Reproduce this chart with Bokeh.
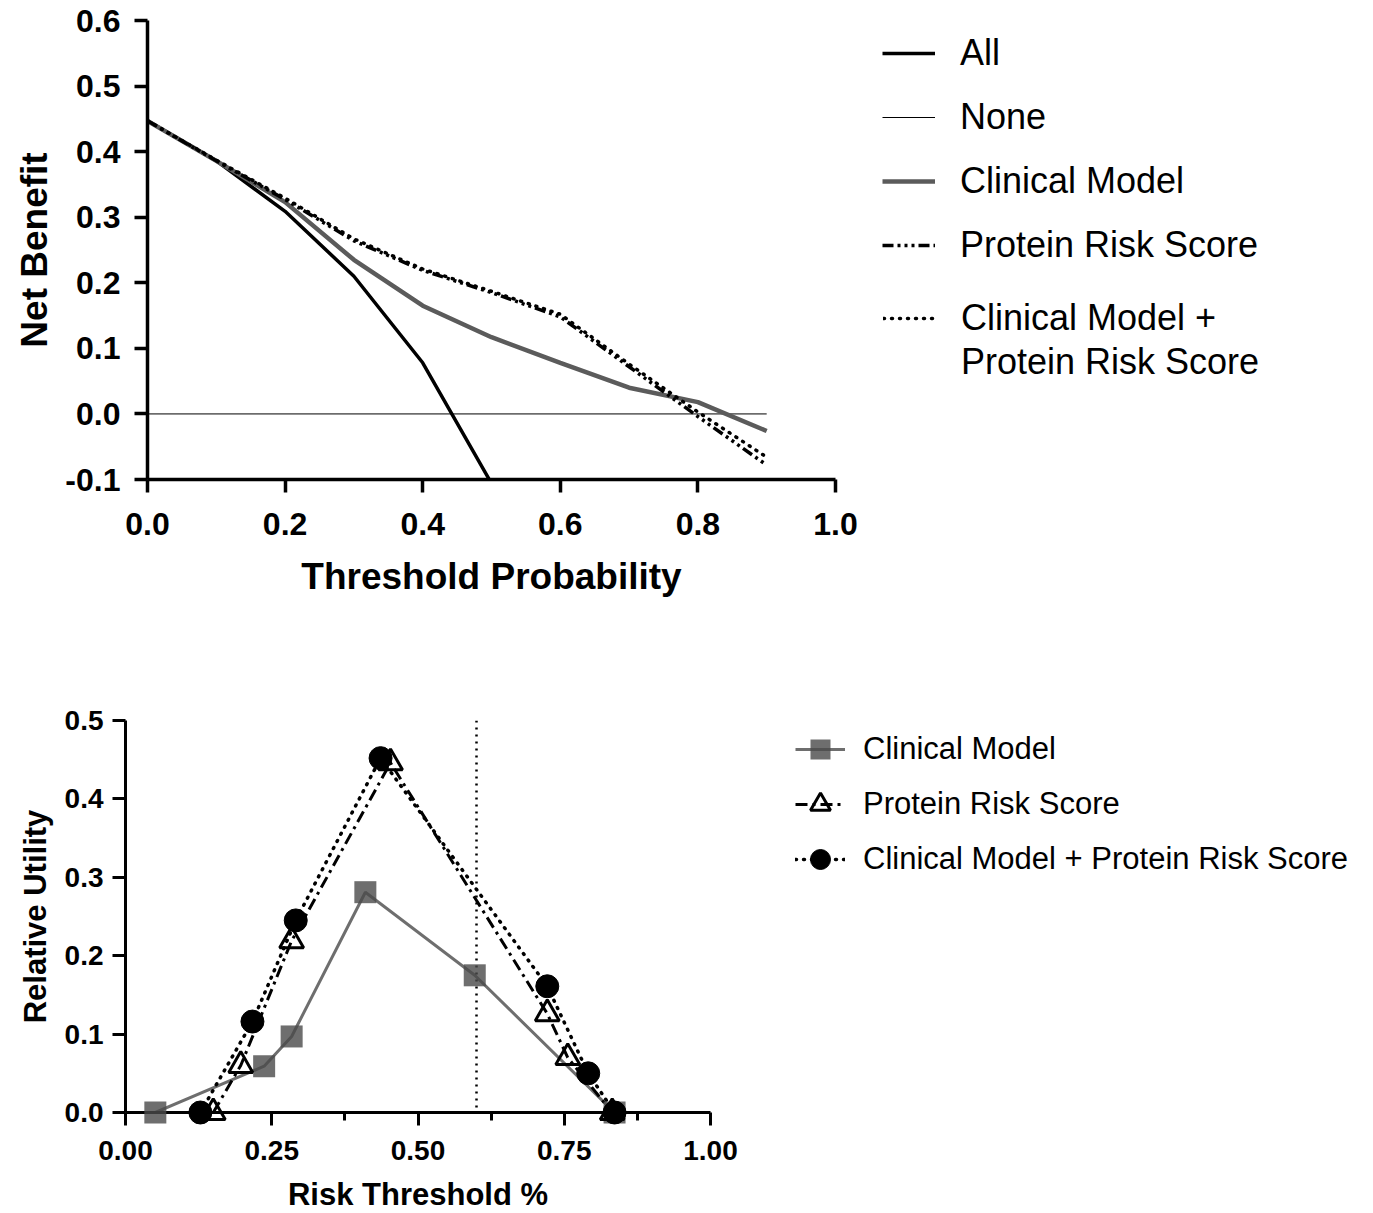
from bokeh.plotting import figure
from bokeh.models import (Legend, LegendItem, FixedTicker, NumeralTickFormatter,
                          Span, Range1d)
from bokeh.embed import file_html
from bokeh.resources import INLINE

# ---------------- data: decision curve (top) ----------------
threshold = [0.0, 0.1, 0.2, 0.3, 0.4, 0.5, 0.6, 0.7, 0.8, 0.9]
all_threshold = [0.0, 0.1, 0.2, 0.3, 0.4, 0.5]
nb_all = [0.447, 0.386, 0.309, 0.210, 0.078, -0.106]
none_threshold = [0.0, 0.9]
nb_none = [0.0, 0.0]
nb_clinical = [0.447, 0.386, 0.323, 0.235, 0.165, 0.117, 0.078, 0.040, 0.018, -0.026]
nb_protein = [0.447, 0.386, 0.327, 0.264, 0.219, 0.185, 0.148, 0.072, -0.004, -0.078]
nb_combined = [0.447, 0.387, 0.329, 0.267, 0.221, 0.187, 0.152, 0.076, 0.003, -0.066]
top_xticks = [0.0, 0.2, 0.4, 0.6, 0.8, 1.0]
top_yticks = [-0.1, 0.0, 0.1, 0.2, 0.3, 0.4, 0.5, 0.6]

# ---------------- data: relative utility (bottom) ----------------
clin_x = [0.051, 0.237, 0.284, 0.410, 0.597, 0.836]
clin_y = [0.0, 0.059, 0.097, 0.281, 0.175, 0.0]
prot_x = [0.150, 0.197, 0.284, 0.453, 0.721, 0.756, 0.832]
prot_y = [0.0, 0.060, 0.219, 0.446, 0.126, 0.070, 0.0]
comb_x = [0.128, 0.217, 0.291, 0.436, 0.721, 0.791, 0.836]
comb_y = [0.0, 0.116, 0.245, 0.452, 0.161, 0.050, 0.0]
risk_cutoff = 0.6
bot_xticks = [0.0, 0.25, 0.5, 0.75, 1.0]
bot_xminor = [0.125, 0.375, 0.625, 0.875]
bot_yticks = [0.0, 0.1, 0.2, 0.3, 0.4, 0.5]

FONT = "Liberation Sans"
GRAY = "#5b5b5b"


def style_axes(p, tick_size, label_size, lw, tick_len):
    for ax in (p.xaxis[0], p.yaxis[0]):
        ax.axis_line_width = lw
        ax.axis_line_color = "black"
        ax.major_tick_line_width = lw
        ax.minor_tick_line_width = lw
        ax.major_tick_in = 0
        ax.major_tick_out = tick_len
        ax.minor_tick_in = 0
        ax.minor_tick_out = 0
        ax.major_label_text_font = FONT
        ax.major_label_text_font_style = "bold"
        ax.major_label_text_font_size = tick_size
        ax.major_label_text_color = "black"
        ax.axis_label_text_font = FONT
        ax.axis_label_text_font_style = "bold"
        ax.axis_label_text_font_size = label_size
        ax.axis_label_text_color = "black"


def style_legend(leg, size, gw, gh, standoff, spacing, margin):
    leg.label_text_font = FONT
    leg.label_text_font_size = size
    leg.label_text_color = "black"
    leg.glyph_width = gw
    leg.glyph_height = gh
    leg.label_standoff = standoff
    leg.spacing = spacing
    leg.padding = 0
    leg.margin = margin
    leg.border_line_alpha = 0
    leg.background_fill_alpha = 0


# ---------------- top figure ----------------
H1 = 610
L1, T1, FW1, FH1 = 147, 20, 688, 459
p1 = figure(frame_width=FW1, frame_height=FH1,
            x_range=Range1d(0, 1), y_range=Range1d(-0.1, 0.6),
            output_backend="svg", toolbar_location=None,
            min_border_left=L1, min_border_right=0,
            min_border_top=T1, min_border_bottom=H1 - T1 - FH1)
p1.outline_line_color = None
p1.grid.visible = False
p1.xaxis.axis_label = "Threshold Probability"
p1.yaxis.axis_label = "Net Benefit"
p1.xaxis.ticker = FixedTicker(ticks=top_xticks)
p1.yaxis.ticker = FixedTicker(ticks=top_yticks)
p1.xaxis.formatter = NumeralTickFormatter(format="0.0")
p1.yaxis.formatter = NumeralTickFormatter(format="0.0")
style_axes(p1, "32px", "37px", 3.5, 13)
p1.xaxis.major_label_standoff = 20
p1.xaxis.axis_label_standoff = 18
p1.yaxis.major_label_standoff = 14
p1.yaxis.axis_label_standoff = 7

r_none = p1.line(none_threshold, nb_none, line_color="black", line_width=1)
r_all = p1.line(all_threshold, nb_all, line_color="black", line_width=3.5)
r_clin = p1.line(threshold, nb_clinical, line_color=GRAY, line_width=4.5)
r_prot = p1.line(threshold, nb_protein, line_color="black", line_width=3.5,
                 line_dash="11 4 3 4 3 4 3 4")
r_comb = p1.line(threshold, nb_combined, line_color="black", line_width=3.5,
                 line_dash="1 7", line_cap="round")
r_blank = p1.line(none_threshold, nb_none, line_alpha=0)

legA = Legend(items=[
    LegendItem(label="All", renderers=[r_all]),
    LegendItem(label="None", renderers=[r_none]),
    LegendItem(label="Clinical Model", renderers=[r_clin]),
    LegendItem(label="Protein Risk Score", renderers=[r_prot]),
], location=(47, 213))
style_legend(legA, "36px", 53, 20, 25, 22, 24)
p1.add_layout(legA, "right")

legB = Legend(items=[
    LegendItem(label="Clinical Model +", renderers=[r_comb]),
    LegendItem(label="Protein Risk Score", renderers=[r_blank]),
], location=(-799, 96))
style_legend(legB, "36px", 53, 20, 25, 2, 0)
p1.add_layout(legB, "right")

# ---------------- bottom figure ----------------
L2, T2, FW2, FH2 = 125, 720 - H1, 585, 392
B2 = 1213 - H1 - T2 - FH2
p2 = figure(frame_width=FW2, frame_height=FH2,
            x_range=Range1d(0, 1), y_range=Range1d(0, 0.5),
            output_backend="svg", toolbar_location=None,
            min_border_left=L2, min_border_right=0,
            min_border_top=T2, min_border_bottom=B2)
p2.outline_line_color = None
p2.grid.visible = False
p2.xaxis.axis_label = "Risk Threshold %"
p2.yaxis.axis_label = "Relative Utility"
p2.xaxis.ticker = FixedTicker(ticks=bot_xticks, minor_ticks=bot_xminor)
p2.yaxis.ticker = FixedTicker(ticks=bot_yticks)
p2.xaxis.formatter = NumeralTickFormatter(format="0.00")
p2.yaxis.formatter = NumeralTickFormatter(format="0.0")
style_axes(p2, "28px", "31px", 3, 13)
p2.xaxis.minor_tick_out = 8
p2.xaxis.major_label_standoff = 15
p2.xaxis.axis_label_standoff = 14
p2.yaxis.major_label_standoff = 9
p2.yaxis.axis_label_standoff = 9

p2.add_layout(Span(location=risk_cutoff, dimension="height", line_color="black",
                   line_width=2.5, line_dash="2 5"))

l_clin = p2.line(clin_x, clin_y, line_color="#4a4a4a", line_alpha=0.8, line_width=3)
l_prot = p2.line(prot_x, prot_y, line_color="black", line_width=3,
                 line_dash="12 5 3 5")
l_comb = p2.line(comb_x, comb_y, line_color="black", line_width=3.5,
                 line_dash="1 7", line_cap="round")
m_clin = p2.scatter(clin_x, clin_y, marker="square", size=22, fill_color="#4a4a4a",
                    fill_alpha=0.8, line_color=None, level="overlay")
m_prot = p2.scatter(prot_x, prot_y, marker="triangle", size=24, fill_alpha=0,
                    line_color="black", line_width=3, level="overlay")
m_comb = p2.scatter(comb_x, comb_y, marker="circle", size=23, fill_color="black",
                    line_color="black", level="overlay")

leg2 = Legend(items=[
    LegendItem(label="Clinical Model", renderers=[l_clin, m_clin]),
    LegendItem(label="Protein Risk Score", renderers=[l_prot, m_prot]),
    LegendItem(label="Clinical Model + Protein Risk Score", renderers=[l_comb, m_comb]),
], location=(85, 228))
style_legend(leg2, "31px", 50, 50, 18, 5, 44)
p2.add_layout(leg2, "right")

open("out.html", "w").write(file_html([p1, p2], INLINE))
